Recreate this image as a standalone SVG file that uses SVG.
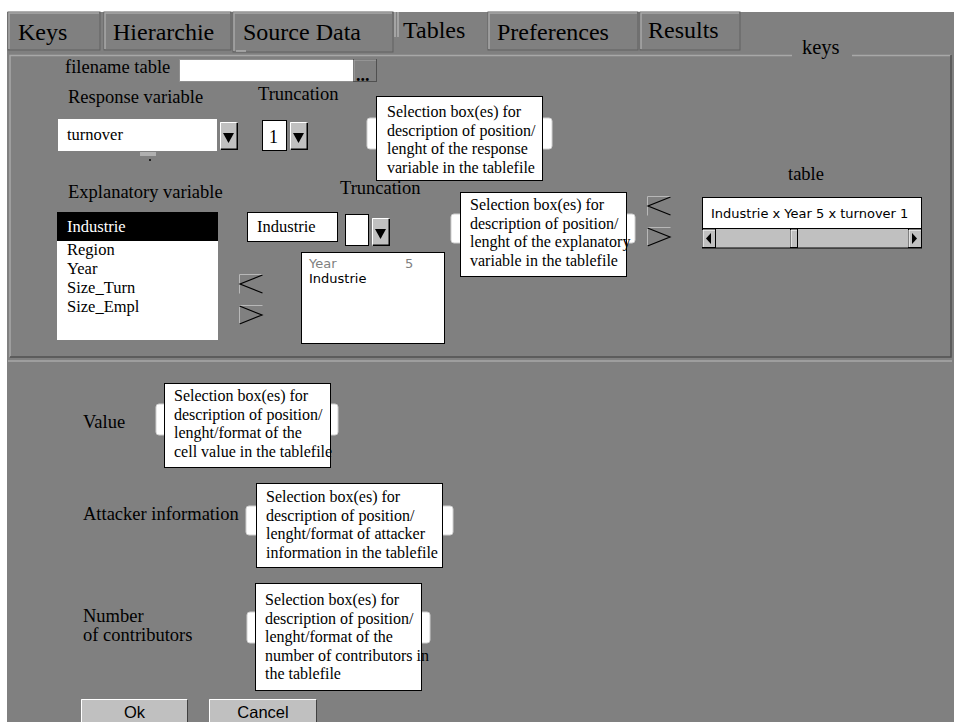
<svg xmlns="http://www.w3.org/2000/svg" xmlns:xlink="http://www.w3.org/1999/xlink" width="954" height="722" viewBox="0 0 954 722">
<style>
.serif{font-family:"Liberation Serif","Times New Roman",serif;fill:#000}
.lbl{font-size:18.5px}
.tab{font-size:24px}
.sel{font-size:16px}
.item{font-size:16.5px}
.sans{font-family:"DejaVu Sans",sans-serif;font-size:13px;fill:#000}
.btn{font-family:"Liberation Sans",Arial,sans-serif;font-size:16.5px;fill:#000}
.hi{stroke:#a8a8a8;stroke-width:1.5;fill:none}
.lo{stroke:#505050;stroke-width:1.5;fill:none}
.box{fill:#fff;stroke:#000;stroke-width:1}
.field{fill:#fff;stroke:#d0d0d0;stroke-width:1}
.inp{fill:#fff;stroke:#000;stroke-width:1}
</style>
<defs>
<g id="ddbtn">
<rect x="0" y="0" width="18" height="28" fill="#c0c0c0"/>
<path d="M0.5,27.5 V0.5 H17.5" stroke="#fff" fill="none"/>
<path d="M0.75,27.25 H17.25 V0.75" stroke="#000" stroke-width="1.5" fill="none"/>
<path d="M3,11 H14 L8.5,21 Z" fill="#000"/>
</g>
<g id="ltbtn">
<path d="M0.5,19.5 V0.5 H23.5" stroke="#b8b8b8" fill="none"/>
<path d="M23.5,1 L1,10 L23.5,19" stroke="#000" stroke-width="1.2" fill="none"/>
</g>
<g id="gtbtn">
<path d="M0.5,19.5 V0.5 H23.5" stroke="#b8b8b8" fill="none"/>
<path d="M0.5,1 L23,10 L0.5,19" stroke="#000" stroke-width="1.2" fill="none"/>
</g>
</defs>
<rect width="954" height="722" fill="#fff"/>
<rect x="7" y="12" width="947" height="710" fill="#808080"/>

<g id="tabs">
<g id="tab-keys"><rect x="8" y="12" width="92" height="38" fill="#808080" stroke="#606060"/><path class="hi" d="M9,49 V13 H99"/><text class="serif tab" x="18" y="40">Keys</text></g>
<g id="tab-hierarchie"><rect x="104" y="12" width="127" height="38" fill="#808080" stroke="#606060"/><path class="hi" d="M105,49 V13 H230"/><text class="serif tab" x="113" y="40">Hierarchie</text></g>
<g id="tab-source"><rect x="233" y="12" width="160" height="40" fill="#808080" stroke="#606060"/><path class="hi" d="M234,51 V13 H392"/><path d="M236,51 H246" stroke="#b0b0b0" stroke-width="1.5"/><text class="serif tab" x="243" y="40">Source Data</text></g>
<g id="tab-tables"><path d="M395,12 V37 M398,12 V37" stroke="#c8c8c8" stroke-width="1"/><text class="serif tab" x="403" y="38">Tables</text></g>
<g id="tab-preferences"><rect x="488" y="12" width="150" height="38" fill="#808080" stroke="#606060"/><path class="hi" d="M489,49 V13 H637"/><text class="serif tab" x="497" y="40">Preferences</text></g>
<g id="tab-results"><rect x="640" y="12" width="100" height="38" fill="#808080" stroke="#606060"/><path class="hi" d="M641,49 V13 H739"/><text class="serif tab" x="648" y="38">Results</text></g>
</g>

<g id="panel">
<path class="hi" d="M10,357 V55.5 H792 M852,55.5 H951"/>
<path class="lo" d="M951,55 V357 H10"/>
<text class="serif" font-size="20.5" x="802" y="54">keys</text>
</g>

<g id="lower-panel">
<path class="hi" d="M8,361 H952"/>
</g>

<g id="filename">
<text class="serif lbl" x="65" y="73">filename table</text>
<rect x="179.5" y="59.5" width="174" height="22" fill="#fff" stroke="#909090"/>
<rect x="353.5" y="59.5" width="23" height="22" fill="#808080" stroke="#505050"/>
<path d="M354,81 V60 H376" stroke="#a8a8a8" fill="none"/>
<text class="serif" font-size="18" x="356" y="81" font-weight="bold">...</text>
</g>

<g id="response">
<text class="serif lbl" x="68" y="103">Response variable</text>
<rect x="58" y="119" width="159" height="32" fill="#fff"/>
<use xlink:href="#ddbtn" x="220" y="122"/>
<rect x="140" y="152" width="16" height="4" fill="#b0b0b0"/>
<rect x="149" y="159" width="2" height="2" fill="#222"/>
<text class="serif item" x="67" y="140">turnover</text>
</g>

<g id="truncation1">
<text class="serif lbl" x="258" y="100">Truncation</text>
<rect x="262.5" y="120.5" width="24" height="30" class="inp"/>
<text class="serif" font-size="18" x="269" y="143">1</text>
<use xlink:href="#ddbtn" x="290" y="122"/>
</g>

<g id="sel-response">
<rect x="367" y="118" width="185" height="31" rx="3" class="field"/>
<rect x="376.5" y="96.5" width="166" height="84" class="box"/>
<text class="serif sel" x="387" y="117">Selection box(es) for</text>
<text class="serif sel" x="387" y="135.5">description of position/</text>
<text class="serif sel" x="387" y="154">lenght of the response</text>
<text class="serif sel" x="387" y="172.5">variable in the tablefile</text>
</g>

<g id="explanatory">
<text class="serif lbl" x="68" y="198">Explanatory variable</text>
<rect x="57" y="212" width="161" height="128" fill="#fff"/>
<rect x="57" y="212" width="161" height="29" fill="#000"/>
<text class="serif item" x="67" y="232" style="fill:#fff">Industrie</text>
<text class="serif item" x="67" y="255">Region</text>
<text class="serif item" x="67" y="274">Year</text>
<text class="serif item" x="67" y="293">Size_Turn</text>
<text class="serif item" x="67" y="312">Size_Empl</text>
</g>

<g id="move-buttons-left">
<use xlink:href="#ltbtn" x="239" y="274"/>
<use xlink:href="#gtbtn" x="239" y="305"/>
</g>

<g id="truncation2">
<text class="serif lbl" x="340" y="194">Truncation</text>
<rect x="247.5" y="212.5" width="90" height="29" class="inp"/>
<text class="serif item" x="257" y="232">Industrie</text>
<rect x="345.5" y="214.5" width="23" height="31" class="inp"/>
<use xlink:href="#ddbtn" x="372" y="218"/>
</g>

<g id="selected-list">
<rect x="301.5" y="252.5" width="143" height="91" class="inp"/>
<text class="sans" x="309" y="268" style="fill:#808080">Year</text>
<text class="sans" x="405" y="268" style="fill:#808080">5</text>
<text class="sans" x="309" y="283">Industrie</text>
</g>

<g id="sel-explanatory">
<rect x="451" y="214" width="184" height="29" rx="3" class="field"/>
<rect x="460.5" y="192.5" width="166" height="84" class="box"/>
<text class="serif sel" x="470" y="210">Selection box(es) for</text>
<text class="serif sel" x="470" y="228.5">description of position/</text>
<text class="serif sel" x="470" y="247">lenght of the explanatory</text>
<text class="serif sel" x="470" y="265.5">variable in the tablefile</text>
</g>

<g id="move-buttons-right">
<use xlink:href="#ltbtn" x="647" y="196"/>
<use xlink:href="#gtbtn" x="647" y="227"/>
</g>

<g id="table">
<text class="serif lbl" x="788" y="180">table</text>
<rect x="702.5" y="197.5" width="219" height="31" class="inp"/>
<text class="sans" x="711" y="218">Industrie x Year 5 x turnover 1</text>
<rect x="702" y="229" width="220" height="19" fill="#c0c0c0"/>
<path d="M702,248 H922" stroke="#000" stroke-width="1"/>
<rect x="702.5" y="229.5" width="13" height="18" fill="#c0c0c0" stroke="#000" stroke-width="1"/>
<path d="M703,247 V230 H715" stroke="#fff" fill="none"/>
<path d="M711,233 V244 L706,238.5 Z" fill="#000"/>
<rect x="908.5" y="229.5" width="13" height="18" fill="#c0c0c0" stroke="#000" stroke-width="1"/>
<path d="M909,247 V230 H921" stroke="#fff" fill="none"/>
<path d="M912,233 V244 L917,238.5 Z" fill="#000"/>
<rect x="790.5" y="229.5" width="7" height="18" fill="#c0c0c0" stroke="#000" stroke-width="1"/>
<path d="M791,247 V230 H797" stroke="#fff" fill="none"/>
</g>

<g id="value">
<text class="serif lbl" x="83" y="428">Value</text>
<rect x="156" y="404" width="182" height="31" rx="3" class="field"/>
<rect x="164.5" y="383.5" width="166" height="84" class="box"/>
<text class="serif sel" x="174" y="401">Selection box(es) for</text>
<text class="serif sel" x="174" y="419.5">description of position/</text>
<text class="serif sel" x="174" y="438">lenght/format of the</text>
<text class="serif sel" x="174" y="456.5">cell value in the tablefile</text>
</g>

<g id="attacker">
<text class="serif lbl" x="83" y="520">Attacker information</text>
<rect x="246" y="506" width="207" height="29" rx="3" class="field"/>
<rect x="256.5" y="483.5" width="186" height="84" class="box"/>
<text class="serif sel" x="266" y="502">Selection box(es) for</text>
<text class="serif sel" x="266" y="520.5">description of position/</text>
<text class="serif sel" x="266" y="539">lenght/format of attacker</text>
<text class="serif sel" x="266" y="557.5">information in the tablefile</text>
</g>

<g id="contributors">
<text class="serif lbl" x="83" y="622">Number</text>
<text class="serif lbl" x="83" y="641">of contributors</text>
<rect x="247" y="612" width="183" height="31" rx="3" class="field"/>
<rect x="255.5" y="583.5" width="166" height="107" class="box"/>
<text class="serif sel" x="265" y="605">Selection box(es) for</text>
<text class="serif sel" x="265" y="623.5">description of position/</text>
<text class="serif sel" x="265" y="642">lenght/format of the</text>
<text class="serif sel" x="265" y="660.5">number of contributors in</text>
<text class="serif sel" x="265" y="679">the tablefile</text>
</g>

<g id="btn-ok">
<rect x="81" y="699" width="107" height="24" fill="#c0c0c0"/>
<path d="M81.5,722 V699.5 H187.5" stroke="#fff" fill="none"/>
<path d="M187.5,699.5 V722" stroke="#404040" fill="none"/>
<text class="btn" x="134.5" y="718" text-anchor="middle">Ok</text>
</g>
<g id="btn-cancel">
<rect x="209" y="699" width="108" height="24" fill="#c0c0c0"/>
<path d="M209.5,722 V699.5 H316.5" stroke="#fff" fill="none"/>
<path d="M316.5,699.5 V722" stroke="#404040" fill="none"/>
<text class="btn" x="263" y="718" text-anchor="middle">Cancel</text>
</g>

<g id="connectors"></g>
</svg>
